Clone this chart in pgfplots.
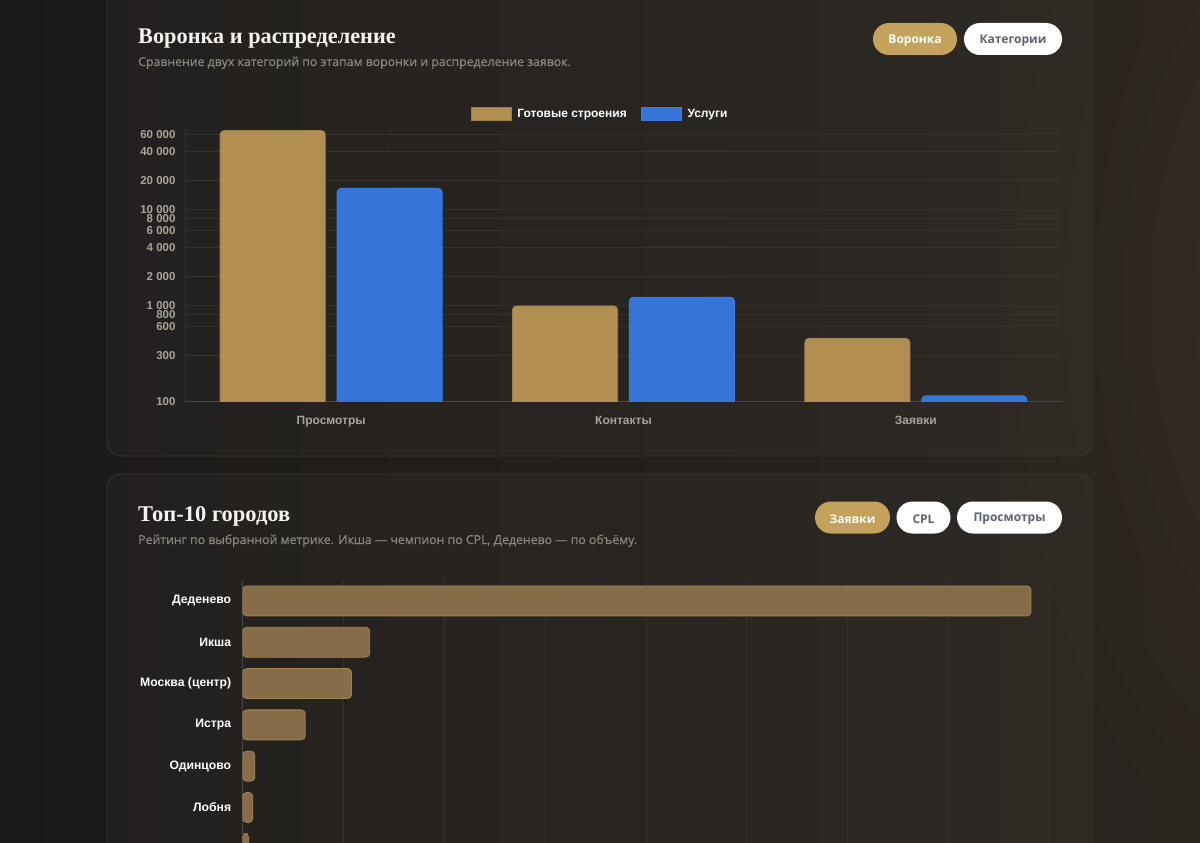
\documentclass[border=0pt]{standalone}
\usepackage{pgfplots}
\pgfplotsset{compat=1.18}
\usepackage{fontspec}
\setmainfont{Liberation Sans}
\newfontfamily\titlefont{Liberation Serif}
\newfontfamily\uifont{Open Sans}
\newfontfamily\subfont[FakeBold=0.6]{Open Sans}

\definecolor{bgA}{HTML}{1C1A19}
\definecolor{bgB}{HTML}{2A251F}
\definecolor{glow}{HTML}{3A3026}
\definecolor{cardedge}{HTML}{3A3632}
\definecolor{titlec}{HTML}{F6F3EF}
\definecolor{subc}{HTML}{8B857D}
\definecolor{goldbtn}{HTML}{C5A25B}
\definecolor{btntext}{HTML}{5D6373}
\definecolor{gridc}{HTML}{36332F}
\definecolor{axisc}{HTML}{4A4642}
\definecolor{tickc}{HTML}{A9A39B}
\definecolor{goldbar}{HTML}{B18F52}
\definecolor{goldedge}{HTML}{9C7E48}
\definecolor{bluebar}{HTML}{3674D8}
\definecolor{blueedge}{HTML}{3D7CE2}
\definecolor{citybar}{HTML}{866C48}
\definecolor{cityedge}{HTML}{A3834F}

\begin{document}
\begin{tikzpicture}
\useasboundingbox (0,0) rectangle (1200pt,-843pt);
\clip (0,0) rectangle (1200pt,-843pt);

\begin{scope}[x=1pt,y=-1pt]
  % page background
  \shade[left color=bgA, right color=bgB] (0,0) rectangle (1200,843);
  \shade[inner color=glow, outer color=bgB, opacity=0.7] (1000,-300) rectangle (1600,900);

  % cards
  \fill[white, opacity=0.025, rounded corners=14] (107,-30) rectangle (1093,456);
  \draw[cardedge, line width=0.8, rounded corners=14] (107,-30) rectangle (1093,456);
  \fill[white, opacity=0.025, rounded corners=14] (107,474) rectangle (1093,920);
  \draw[cardedge, line width=0.8, rounded corners=14] (107,474) rectangle (1093,920);

  % headings of the funnel card
  \node[anchor=base west, inner sep=0, text=titlec,
        font=\titlefont\bfseries\fontsize{22.3}{26}\selectfont] at (138,44) {Воронка и распределение};
  \node[anchor=base west, inner sep=0, text=subc,
        font=\subfont\fontsize{12.3}{14}\selectfont] at (138,66)
        {Сравнение двух категорий по этапам воронки и распределение заявок.};

  % switch buttons of the funnel card
  \fill[goldbtn, rounded corners=16] (873,23) rectangle (957,55);
  \node[text=white, font=\uifont\bfseries\fontsize{12}{14}\selectfont] at (915,40.5) {Воронка};
  \fill[white, rounded corners=16] (964,23) rectangle (1062,55);
  \node[text=btntext, font=\uifont\bfseries\fontsize{12}{14}\selectfont] at (1013,40.5) {Категории};

  % headings of the city card
  \node[anchor=base west, inner sep=0, text=titlec,
        font=\titlefont\bfseries\fontsize{22.5}{26}\selectfont] at (138,521.5) {Топ-10 городов};
  \node[anchor=base west, inner sep=0, text=subc,
        font=\subfont\fontsize{12.3}{14}\selectfont] at (138,544)
        {Рейтинг по выбранной метрике. Икша — чемпион по CPL, Деденево — по объёму.};

  % switch buttons of the city card
  \fill[goldbtn, rounded corners=16] (815,501.5) rectangle (890,533.5);
  \node[text=white, font=\uifont\bfseries\fontsize{12}{14}\selectfont] at (852.5,519) {Заявки};
  \fill[white, rounded corners=16] (896.5,501.5) rectangle (950.5,533.5);
  \node[text=btntext, font=\uifont\bfseries\fontsize{12}{14}\selectfont] at (923.5,519) {CPL};
  \fill[white, rounded corners=16] (957,501.5) rectangle (1062,533.5);
  \node[text=btntext, font=\uifont\bfseries\fontsize{12}{14}\selectfont] at (1009.5,519) {Просмотры};
\end{scope}

% funnel: two categories per stage, logarithmic scale
\begin{axis}[
  at={(185pt,-401.7pt)}, anchor=south west,
  scale only axis, width=877pt, height=272.5pt,
  ymode=log, ymin=100, ymax=68000,
  xmin=-0.5, xmax=2.5,
  ybar=11.7pt, bar width=105.2pt,
  axis x line*=bottom, axis y line*=left,
  x axis line style={axisc, line width=0.8pt},
  y axis line style={gridc, line width=0.8pt},
  major tick length=0pt,
  xtick={0,1,2},
  xticklabels={Просмотры,Контакты,Заявки},
  xticklabel style={text=tickc, font=\bfseries\fontsize{12}{14}\selectfont, yshift=-11pt},
  ytick={100,300,600,800,1000,2000,4000,6000,8000,10000,20000,40000,60000},
  yticklabels={100,300,600,800,1~000,2~000,4~000,6~000,8~000,10~000,20~000,40~000,60~000},
  yticklabel style={text=tickc, font=\bfseries\fontsize{11.5}{13}\selectfont, xshift=-6pt},
  ymajorgrids, yminorgrids=false, minor tick num=0,
  major grid style={gridc, line width=0.8pt},
  legend image code/.code={\draw[#1, rounded corners=0pt] (0pt,-6.5pt) rectangle (40pt,6.5pt);},
  legend style={at={(0.4732,1.0560)}, anchor=center, draw=none, fill=none,
    legend columns=2, text=white, font=\bfseries\fontsize{12}{14}\selectfont,
    /tikz/every odd column/.append style={column sep=4pt},
    /tikz/every even column/.append style={column sep=12pt}},
]
\addplot[fill=goldbar, draw=goldedge, line width=0.8pt, rounded corners=4pt]
  coordinates {(0,66000) (1,990) (2,455)};
\addlegendentry{Готовые строения}
\addplot[fill=bluebar, draw=blueedge, line width=0.8pt, rounded corners=4pt]
  coordinates {(0,16500) (1,1220) (2,115)};
\addlegendentry{Услуги}
\end{axis}

% top cities by number of requests
\begin{axis}[
  at={(242.7pt,-580.3pt)}, anchor=north west,
  scale only axis, width=806.4pt, height=413pt,
  xbar, bar width=30pt,
  xmin=0, xmax=400, ymin=-0.5, ymax=9.5, y dir=reverse,
  axis x line*=bottom, axis y line*=left,
  x axis line style={draw=none},
  y axis line style={axisc, line width=0.8pt},
  major tick length=0pt,
  xtick={50,100,...,400}, xticklabels={},
  xmajorgrids, major grid style={gridc, line width=0.8pt},
  ytick={0,1,2,3,4,5,6},
  yticklabels={Деденево,Икша,Москва (центр),Истра,Одинцово,Лобня,{}},
  yticklabel style={text=white, font=\bfseries\fontsize{12.2}{14}\selectfont, xshift=-8pt},
]
\addplot[fill=citybar, draw=cityedge, line width=0.8pt, rounded corners=4pt]
  coordinates {(391,0) (63,1) (54,2) (31,3) (6,4) (5,5) (3,6)};
\end{axis}
\end{tikzpicture}
\end{document}
